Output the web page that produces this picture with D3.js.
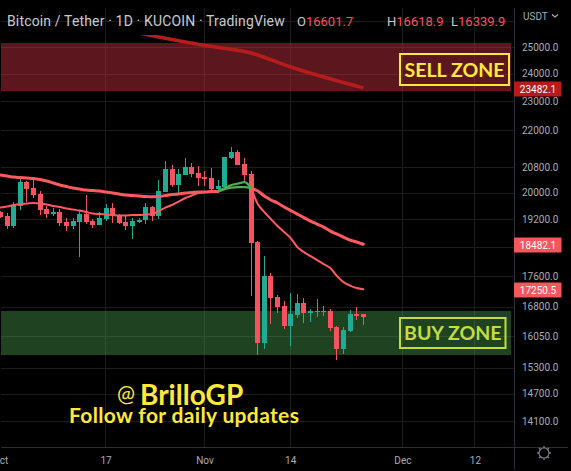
<!DOCTYPE html>
<html>
<head>
<meta charset="utf-8">
<title>BTC/USDT daily</title>
<script src="https://cdn.jsdelivr.net/npm/d3@7"></script>
<style>
  html, body { margin: 0; padding: 0; background: #000; overflow: hidden; }
  svg { display: block; }
  .axis path, .axis line { display: none; }
  .axis text, .tick-text { font-family: Roboto, sans-serif; font-size: 10px; fill: #a9acb5; letter-spacing: 0; }
</style>
</head>
<body>
<svg id="chart" width="571" height="471"></svg>
<script>
// Daily sessions, Oct 1 to Nov 25 2022
const firstDay = Date.UTC(2022, 9, 1);
const opens = [19417,19290,19004,19596,20330,20143,19960,19506,19357,19417,19121,19004,19121,19357,19151,19033,19209,19536,19327,19121,19004,19121,19190,19566,19298,20030,20739,20236,20549,20802,20613,
  20486,20455,20103,20174,21091,21286,20899,20581,18545,15887,17603,17046,16813,16305,16583,16890,16634,16670,16670,16685,16280,15741,16181,16609,16601.7];
const highs = [19446,19378,19717,20455,20361,20392,20051,19596,19536,19506,19239,19239,19476,19929,19209,19417,19657,19687,19357,19327,19239,19239,19687,19596,20392,20985,20866,20739,21091,20920,20834,
  20666,20771,20392,21123,21440,21351,21091,20676,18574,18151,17684,17099,16942,17152,17125,17020,16736,16994,16813,16736,16305,16280,16710,16787,16618.9];
const lows = [19239,18917,18946,19476,19717,19838,19327,19239,19298,19004,18859,18917,18123,19062,18946,19033,19151,19092,19062,18888,18630,19092,19062,19151,19209,20030,20183,20000,20549,20495,20205,
  20205,20030,19980,20165,21059,20857,20361,17072,15597,15741,16355,16634,16231,15814,16507,16381,16406,16532,16558,16181,15478,15621,16156,16456,16339.9];
const closes = [19268,19004,19627,20330,20112,19929,19476,19357,19417,19092,19004,19151,19357,19121,19033,19239,19536,19298,19092,19004,19151,19180,19557,19306,20051,20739,20236,20581,20802,20581,20455,
  20424,20103,20205,21123,21276,20866,20549,18517,15887,17603,17020,16787,16305,16609,16890,16634,16685,16695,16690,16255,15741,16206,16609,16558,16532];

// Moving averages, one value per session
const slowAverage = [20549,20518,20486,20470,20455,20440,20408,20361,20299,20236,20190,20143,20112,20082,20066,20051,20021,19990,19960,19929,19914,19899,19884,19877,19884,19914,19945,19960,19990,20005,20021,
  20021,20036,20036,20112,20158,20174,20174,20143,20051,19899,19778,19687,19566,19461,19357,19253,19151,19062,18975,18859,18774,18687,18602,18545,18482.1];
const fastAverage = [19551,19581,19627,19657,19672,19687,19672,19642,19596,19566,19521,19491,19461,19417,19372,19357,19342,19327,19313,19313,19327,19327,19342,19357,19446,19551,19627,19732,19838,19914,19990,
  20021,20036,20051,20143,20236,20283,20330,20143,19657,19417,19209,19004,18831,18659,18403,18263,18151,18040,17929,17820,17603,17442,17349,17283,17250.5];
const greenFrom = 33, greenTo = 38; // sessions where the averages turn green

// Long average that enters from above the pane
const longDays = [[2022,9,19],[2022,9,25],[2022,10,1],[2022,10,8],[2022,10,14],[2022,10,25]];
const longValues = [25700,25385,25057,24771,24246,23482.1];

// Price axis
const axisTicks = [25000,24000,23000,22000,20800,20000,19200,17600,16800,16050,15300,14700,14100];
const extraGrid = [26000,18400];
const tagPrices = [23482.1,18482.1,17250.5];
const tagColors = ["#b71c1c","#f6565c","#f6565c"];

// Date axis
const dateTicks = [[2022,9,1],[2022,9,17],[2022,10,1],[2022,10,14],[2022,11,1],[2022,11,12]];
const dateLabels = ["Oct","17","Nov","14","Dec","12"];

// Shaded zones
const sellZone = [25154,23370];
const buyZone = [16685,15597];

const colorUp = "#22ab94", colorDown = "#f7525f";
const day = 86400000;
const dates = opens.map((_, i) => new Date(firstDay + i * day));

const x = d3.scaleUtc().domain([dates[0], dates[dates.length - 1]]).range([0.5, 363.3]);
const y = d3.scaleLog().domain([25000, 14100]).range([47, 421]);

const svg = d3.select("#chart");
svg.append("rect").attr("width", 571).attr("height", 471).attr("fill", "#000");

const defs = svg.append("defs");
defs.append("clipPath").attr("id", "pane").append("rect")
  .attr("x", 0).attr("y", 35).attr("width", 514).attr("height", 412);

// Grid
const grid = svg.append("g").attr("stroke", "#1c1c1c").attr("shape-rendering", "crispEdges");
grid.selectAll(".h").data(axisTicks.concat(extraGrid)).join("line")
  .attr("x1", 1).attr("x2", 514)
  .attr("y1", d => Math.round(y(d)) + 0.5).attr("y2", d => Math.round(y(d)) + 0.5);
grid.selectAll(".v").data(dateTicks.slice(1)).join("line")
  .attr("y1", 8).attr("y2", 447)
  .attr("x1", d => Math.round(x(new Date(Date.UTC(...d)))) - 0.5)
  .attr("x2", d => Math.round(x(new Date(Date.UTC(...d)))) - 0.5);

// Zones, translucent so the grid stays visible through them
const zones = [[sellZone, "#ca3340", 0.45], [buyZone, "#56b759", 0.36]];
svg.append("g").attr("shape-rendering", "crispEdges").selectAll("rect").data(zones).join("rect")
  .attr("x", 1).attr("width", 510)
  .attr("y", d => y(d[0][0])).attr("height", d => y(d[0][1]) - y(d[0][0]))
  .attr("fill", d => d[1]).attr("fill-opacity", d => d[2]);

// Moving averages
const line = d3.line().x(d => x(d.date)).y(d => y(d.value)).curve(d3.curveMonotoneX);
const toPoints = values => values.map((value, i) => ({ date: dates[i], value }));
const smooth = svg.append("g").attr("fill", "none").attr("stroke-linejoin", "round");

smooth.append("path")
  .attr("clip-path", "url(#pane)")
  .attr("d", line(longDays.map((d, i) => ({ date: new Date(Date.UTC(...d)), value: longValues[i] }))))
  .attr("stroke", "#b71c1c").attr("stroke-width", 3.5);

// Candles
const candles = svg.append("g").attr("shape-rendering", "crispEdges");
const row = candles.selectAll("g").data(dates).join("g")
  .attr("fill", (_, i) => closes[i] >= opens[i] ? colorUp : colorDown);
row.append("rect")
  .attr("x", d => Math.floor(x(d)))
  .attr("width", 1)
  .attr("y", (_, i) => y(highs[i]))
  .attr("height", (_, i) => y(lows[i]) - y(highs[i]));
row.append("rect")
  .attr("x", d => Math.floor(x(d)) - 2)
  .attr("width", 5)
  .attr("y", (_, i) => y(Math.max(opens[i], closes[i])))
  .attr("height", (_, i) => Math.max(1, y(Math.min(opens[i], closes[i])) - y(Math.max(opens[i], closes[i]))));

const overlay = svg.append("g").attr("fill", "none").attr("stroke-linejoin", "round").attr("stroke-linecap", "round");
[[slowAverage, 3], [fastAverage, 2]].forEach(([series, width]) => {
  const pts = toPoints(series);
  overlay.append("path").attr("d", line(pts.slice(0, greenFrom + 1))).attr("stroke", "#ff5a60").attr("stroke-width", width);
  overlay.append("path").attr("d", line(pts.slice(greenTo))).attr("stroke", "#ff5a60").attr("stroke-width", width);
  overlay.append("path").attr("d", line(pts.slice(greenFrom, greenTo + 1))).attr("stroke", "#4caf50").attr("stroke-width", 2.2);
});

// Zone captions
const captions = [
  { text: "SELL ZONE", x: 400, y: 54, w: 109, h: 31, color: "#ffe83b" },
  { text: "BUY ZONE", x: 400, y: 318, w: 105.5, h: 30, color: "#c3dc3f" }
];
captions.forEach(c => {
  svg.append("rect").attr("x", c.x).attr("y", c.y).attr("width", c.w).attr("height", c.h)
    .attr("fill", "none").attr("stroke", c.color).attr("stroke-width", 2);
  svg.append("text").attr("x", c.x + c.w / 2).attr("y", c.y + c.h / 2 + 7)
    .attr("text-anchor", "middle").attr("fill", c.color)
    .attr("font-family", "Lato, sans-serif").attr("font-weight", 700).attr("font-size", 19.5)
    .text(c.text);
});

// Promo text
svg.append("text").attr("x", 117).attr("y", 402).attr("fill", "#ffe83b")
  .attr("font-family", "Lato, sans-serif").attr("font-size", 24).attr("textLength", 18).attr("lengthAdjust", "spacingAndGlyphs").text("@");
svg.append("text").attr("x", 140).attr("y", 405).attr("fill", "#ffe83b")
  .attr("font-family", "Lato, sans-serif").attr("font-weight", 700).attr("font-size", 28).text("BrilloGP");
svg.append("text").attr("x", 69).attr("y", 423).attr("fill", "#ffe83b")
  .attr("font-family", "Lato, sans-serif").attr("font-weight", 700).attr("font-size", 21).attr("letter-spacing", 0.35).text("Follow for daily updates");

// Pane frame
const frame = svg.append("g").attr("stroke", "#2a2e39").attr("shape-rendering", "crispEdges");
frame.append("line").attr("x1", 514.5).attr("x2", 514.5).attr("y1", 8).attr("y2", 469);
frame.append("line").attr("x1", 1).attr("x2", 568).attr("y1", 447.5).attr("y2", 447.5);

// Price axis labels
svg.append("g").attr("class", "axis").attr("transform", "translate(513,0)")
  .call(d3.axisRight(y).tickValues(axisTicks).tickSize(0).tickPadding(9).tickFormat(d3.format(".1f")));

svg.append("text").attr("class", "tick-text").attr("x", 523).attr("y", 20).text("USDT");
svg.append("path").attr("d", "M552 14.5 L555 17 L558 14.5").attr("fill", "none").attr("stroke", "#a9acb5").attr("stroke-width", 1.2);

// Last-value tags
const tags = svg.append("g").selectAll("g").data(tagPrices).join("g")
  .attr("transform", d => `translate(514,${Math.round(y(d)) + 1})`);
tags.append("rect").attr("y", -7.5).attr("width", 47.5).attr("height", 15).attr("rx", 1)
  .attr("fill", (_, i) => tagColors[i]);
tags.append("text").attr("x", 24).attr("y", 3.5).attr("text-anchor", "middle")
  .attr("fill", "#fff").attr("font-family", "Roboto, sans-serif").attr("font-size", 10)
  .text(d3.format(".1f"));

// Date axis labels
svg.append("g").selectAll("text").data(dateTicks).join("text")
  .attr("class", "tick-text").attr("text-anchor", "middle").attr("y", 464)
  .attr("x", d => x(new Date(Date.UTC(...d))))
  .text((_, i) => dateLabels[i]);

// Header legend
const header = svg.append("text").attr("x", 7).attr("y", 26)
  .attr("font-family", "Roboto, sans-serif").attr("font-size", 14).attr("letter-spacing", 0.15).attr("fill", "#c9cbd1");
header.append("tspan").text("Bitcoin / Tether · 1D · KUCOIN · TradingView");
const last = opens.length - 1;
[["O", opens[last], 297], ["H", highs[last], 387], ["L", lows[last], 451]].forEach(([k, v, px]) => {
  const t = svg.append("text").attr("x", px).attr("y", 26)
    .attr("font-family", "Roboto, sans-serif").attr("font-size", 13).attr("fill", "#c9cbd1");
  t.append("tspan").text(k);
  t.append("tspan").attr("fill", colorDown).text(d3.format(".1f")(v));
});

// Settings gear
const gear = svg.append("g").attr("transform", "translate(544,453)").attr("stroke", "#787b86").attr("fill", "none");
gear.append("circle").attr("r", 5).attr("stroke-width", 1.2);
d3.range(8).forEach(i => {
  const a = i * Math.PI / 4;
  gear.append("line").attr("stroke-width", 1.4)
    .attr("x1", 5 * Math.cos(a)).attr("y1", 5 * Math.sin(a))
    .attr("x2", 7 * Math.cos(a)).attr("y2", 7 * Math.sin(a));
});
</script>
</body>
</html>
